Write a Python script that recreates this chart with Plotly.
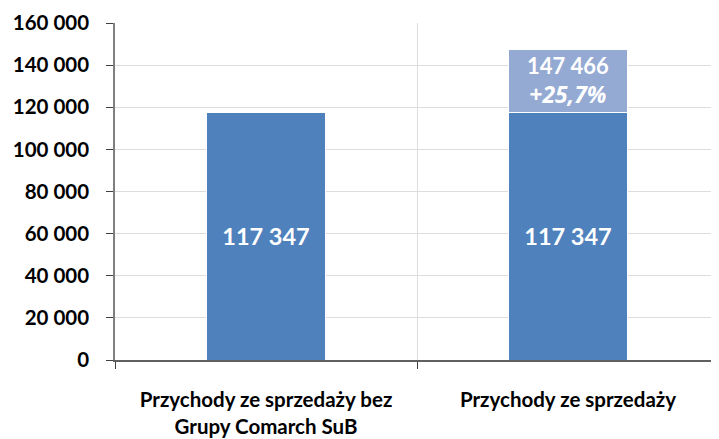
import plotly.graph_objects as go

categories = ["Przychody ze sprzedaży bez<br>Grupy Comarch SuB", "Przychody ze sprzedaży"]
base_values = [117347, 117347]
totals = [117347, 147466]
growth_labels = ["", "+25,7%"]
tick_vals = [0, 20000, 40000, 60000, 80000, 100000, 120000, 140000, 160000]
tick_text = ["0", "20 000", "40 000", "60 000", "80 000", "100 000", "120 000", "140 000", "160 000"]

def fmt(v):
    return f"{v:,}".replace(",", " ")

extra_values = [t - b for t, b in zip(totals, base_values)]
base_text = [fmt(v) for v in base_values]
extra_text = [f"{fmt(t)}<br><span style=\"font-family:'Open Sans';font-style:italic;font-size:23px\">{g}</span>" if e > 0 else ""
              for t, g, e in zip(totals, growth_labels, extra_values)]

FONT = "Lato"

fig = go.Figure()
fig.add_trace(go.Bar(
    x=categories, y=base_values, text=base_text, textposition="inside",
    insidetextanchor="middle", textangle=0,
    textfont=dict(family=FONT, size=23.5, color="white", weight="bold"),
    marker=dict(color="#4F81BD", line=dict(color="white", width=1)),
    width=0.395, hoverinfo="skip",
))
fig.add_trace(go.Bar(
    x=categories, y=extra_values, text=extra_text, textposition="inside",
    insidetextanchor="middle", textangle=0,
    textfont=dict(family=FONT, size=22, color="white", weight="bold"),
    marker=dict(color="#95AAD3", line=dict(color="white", width=1)),
    width=0.395, hoverinfo="skip",
))

# page body has an 8px default margin; compensate so the figure fills the 719x439 window
fig.update_layout(
    barmode="stack",
    width=711, height=431,
    margin=dict(l=107, r=0, t=15, b=79, autoexpand=False),
    paper_bgcolor="white", plot_bgcolor="white",
    showlegend=False,
    uniformtext=dict(mode=False),
    font=dict(family=FONT, color="black"),
)
fig.update_yaxes(
    range=[0, 160000], tickvals=tick_vals, ticktext=tick_text,
    automargin=False,
    showgrid=True, gridcolor="#DDDDDD", gridwidth=1,
    showline=True, linecolor="#808080", linewidth=1.5,
    ticks="outside", ticklen=7, tickcolor="#404040",
    ticklabelstandoff=13,
    tickfont=dict(family=FONT, size=20.5, color="black", weight="bold"),
    zeroline=False,
)
fig.update_xaxes(
    type="category", tickson="boundaries", automargin=False,
    showgrid=True, gridcolor="#DDDDDD", gridwidth=1,
    showline=True, linecolor="#606060", linewidth=1.5,
    ticks="outside", ticklen=7, tickcolor="#404040",
    ticklabelstandoff=21,
    tickfont=dict(family=FONT, size=20.5, color="black", weight="bold"),
)

fig.write_html("out.html")
